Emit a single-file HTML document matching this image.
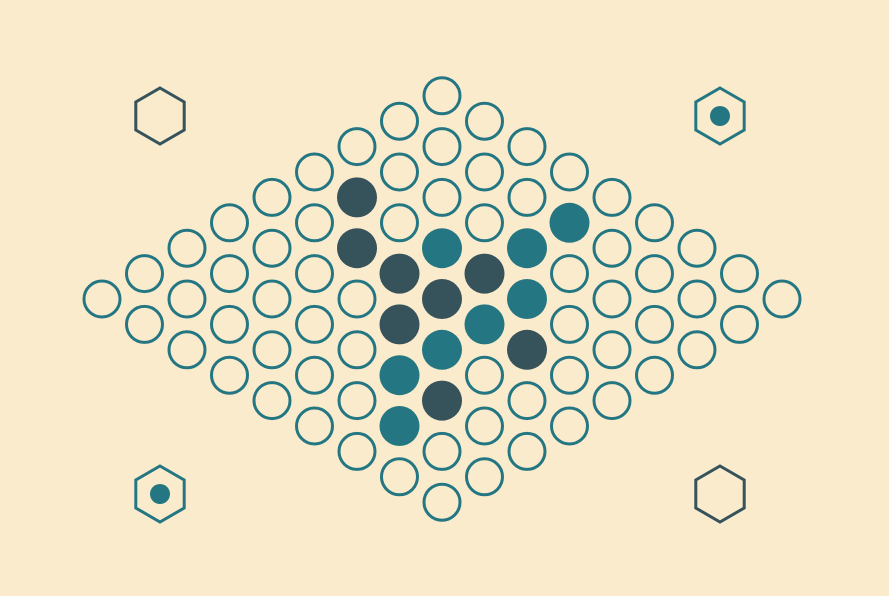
<!DOCTYPE html>
<html><head><meta charset="utf-8"><style>
html,body{margin:0;padding:0;background:#faebcd;}
svg{display:block;}
</style></head><body>
<svg id="board" width="889" height="596" viewBox="0 0 889 596">
<rect x="0" y="0" width="889" height="596" fill="#faebcd"/>
<g id="hexes"></g>
<g id="cells"></g>
</svg>
<script>
const boardSize = 9;
const darkStones = [[5,1],[4,2],[4,3],[4,4],[3,4],[2,6],[4,6],[5,4]];
const tealStones = [[5,3],[6,4],[7,4],[5,5],[4,5],[3,5],[2,5],[1,6]];
const cornerHexes = [
 {name:'top-left-indicator', x:160, y:116, color:'#36525a', dot:false},
 {name:'top-right-indicator', x:720, y:116, color:'#247782', dot:true},
 {name:'bottom-left-indicator', x:160, y:494, color:'#247782', dot:true},
 {name:'bottom-right-indicator', x:720, y:494, color:'#36525a', dot:false}
];
const NS='http://www.w3.org/2000/svg';
const ox=102, oy=299, dx=42.5, dy=25.4;
function px(i,j){return ox+dx*(i+j);}
function py(i,j){return oy-dy*i+dy*j;}
function key(a){return a[0]+','+a[1];}
const dk=new Set(darkStones.map(key)), tk=new Set(tealStones.map(key));
const cells=document.getElementById('cells');
for(let i=0;i<boardSize;i++){for(let j=0;j<boardSize;j++){
 const c=document.createElementNS(NS,'circle');
 c.setAttribute('cx',px(i,j));c.setAttribute('cy',py(i,j));
 const k=i+','+j;
 if(dk.has(k)){c.setAttribute('r',20);c.setAttribute('fill','#36525a');
  }
 else if(tk.has(k)){c.setAttribute('r',20);c.setAttribute('fill','#247782');
  }
 else{c.setAttribute('r',18);c.setAttribute('fill','none');c.setAttribute('stroke','#247782');c.setAttribute('stroke-width','3');
  }
 
 cells.appendChild(c);
}}
const hg=document.getElementById('hexes');
cornerHexes.forEach(h=>{
 const g=document.createElementNS(NS,'g');
 
 
 const p=document.createElementNS(NS,'polygon');
 const r=28,pts=[];
 for(let a=0;a<6;a++){const t=Math.PI/180*(60*a-90);pts.push((h.x+r*Math.cos(t)).toFixed(1)+','+(h.y+r*Math.sin(t)).toFixed(1));}
 p.setAttribute('points',pts.join(' '));p.setAttribute('fill','none');p.setAttribute('stroke',h.color);p.setAttribute('stroke-width','3');
 g.appendChild(p);
 if(h.dot){const d=document.createElementNS(NS,'circle');d.setAttribute('cx',h.x);d.setAttribute('cy',h.y);d.setAttribute('r',10);d.setAttribute('fill',h.color);g.appendChild(d);}
 hg.appendChild(g);
});
</script>
</body></html>
